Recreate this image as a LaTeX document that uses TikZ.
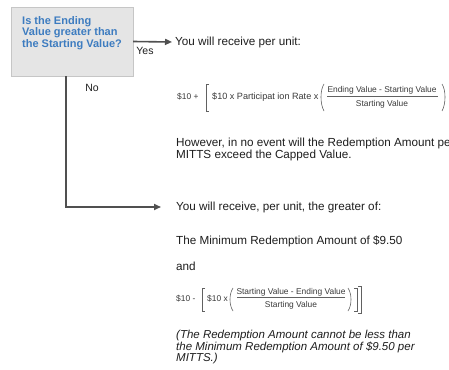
\documentclass[tikz,border=0pt]{standalone}
\usepackage{fontspec}
\setmainfont{Liberation Sans}
\usetikzlibrary{arrows.meta}
\definecolor{qblue}{HTML}{3D7CC0}
\definecolor{linegray}{HTML}{505050}
\definecolor{txt}{HTML}{1E1E1E}
\definecolor{ftxt}{HTML}{3A3A3A}
\begin{document}
\begin{tikzpicture}[x=1pt,y=-1pt,
  conn/.style={draw=linegray, line width=1.6pt, -{Triangle[length=7pt,width=6pt]}},
  body/.style={inner sep=0pt, anchor=west, text=txt, font=\fontsize{11.7}{12}\selectfont},
  ftext/.style={inner sep=0pt, text=ftxt, font=\fontsize{8.4}{9}\selectfont},
  brk/.style={draw=ftxt!80, line width=0.6pt},
  qbox/.style={draw=gray!45, fill=gray!20, minimum width=122pt, minimum height=69pt, inner sep=0pt},
  lbl/.style={inner sep=0pt, text=txt, font=\fontsize{10.5}{12}\selectfont}
]
\useasboundingbox (0,0) rectangle (449,369);
\fill[white] (0,0) rectangle (449,369);
% decision box
\node[qbox] (q) at (72,41.5) {};
\node[anchor=north west, inner sep=0pt, align=left, text=qblue,
      font=\bfseries\fontsize{11}{11.5}\selectfont] (qt) at (22,16)
      {Is the Ending\\Value greater than\\the Starting Value?};
% yes branch
\node[body, inner xsep=3pt] (r1) at (172,42) {You will receive per unit:};
\draw[conn] (q.east) -- (r1.west);
\node[lbl] (yes) at (145,51) {Yes};
% formula 1
\node[ftext, anchor=west] (f1a) at (177,97) {\$10 +};
\draw[brk] (209,84) -- (206,84) -- (206,111) -- (209,111);
\node[ftext, anchor=west, font=\fontsize{9.1}{10}\selectfont] (f1b) at (212,97) {\$10 x Participat ion Rate x};
\draw[brk] (324,84) .. controls (320,90) and (320,104) .. (324,111);
\node[ftext] (f1n) at (382,90) {Ending Value - Starting Value};
\draw[brk] (327,96.5) -- (438,96.5);
\node[ftext] (f1d) at (382,104) {Starting Value};
\draw[brk] (442,84) .. controls (446,90) and (446,104) .. (442,111);
\draw[brk] (450,84) -- (453,84) -- (453,111) -- (450,111);
\node[body, align=left] (r1b) at (176,149)
  {However, in no event will the Redemption Amount per\\MITTS exceed the Capped Value.};
% no branch
\node[lbl] (no) at (92,88) {No};
\node[body, inner xsep=15pt] (r2) at (161,207) {You will receive, per unit, the greater of:};
\draw[conn] ([xshift=-6pt]q.south) |- (r2.west);
\node[body] (m1) at (176,241) {The Minimum Redemption Amount of \$9.50};
\node[body] (m2) at (176,266) {and};
% formula 2
\node[ftext, anchor=west] (f2a) at (176,299) {\$10 -};
\draw[brk] (205,288) -- (202,288) -- (202,311) -- (205,311);
\node[ftext, anchor=west] (f2b) at (207,299) {\$10 x};
\draw[brk] (233,288) .. controls (229,294) and (229,305) .. (233,311);
\node[ftext] (f2n) at (291,292) {Starting Value - Ending Value};
\draw[brk] (237,297.5) -- (345,297.5);
\node[ftext] (f2d) at (291,305) {Starting Value};
\draw[brk] (348,288) .. controls (352,294) and (352,305) .. (348,311);
\draw[brk] (354,288) -- (357,288) -- (357,311) -- (354,311);
\draw[brk] (358,286) -- (361,286) -- (361,313) -- (358,313);
\node[body, align=left, font=\itshape\fontsize{11.5}{11.5}\selectfont] (m3) at (176,347.5)
  {(The Redemption Amount cannot be less than\\the Minimum Redemption Amount of \$9.50 per\\MITTS.)};
\end{tikzpicture}
\end{document}
